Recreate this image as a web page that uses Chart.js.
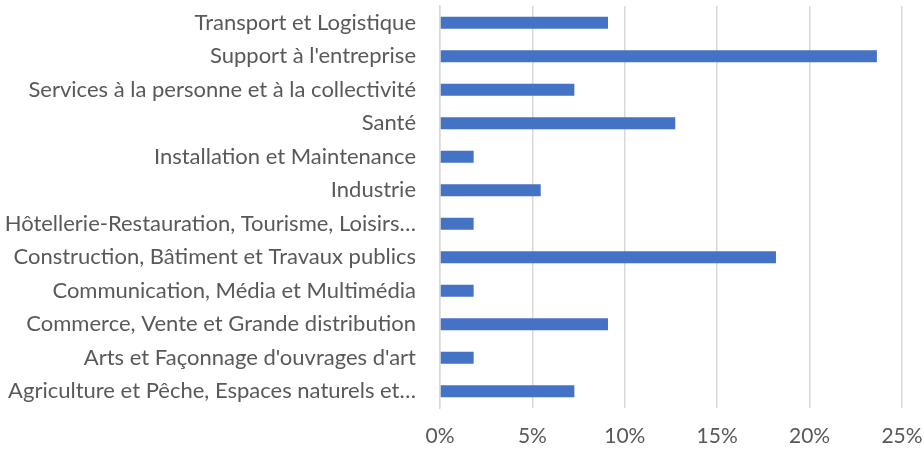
<!DOCTYPE html>
<html>
<head>
<meta charset="utf-8">
<script src="https://cdn.jsdelivr.net/npm/chart.js@4.4.0/dist/chart.umd.min.js"></script>
<style>
    html, body { margin: 0; padding: 0; background: #ffffff; }
    #wrap { width: 924px; height: 450px; position: relative; }
</style>
</head>
<body>
<div id="wrap"><canvas id="myChart"></canvas></div>
<script>
// categories, top to bottom
const categories = [
    'Transport et Logistique',
    "Support à l'entreprise",
    'Services à la personne et à la collectivité',
    'Santé',
    'Installation et Maintenance',
    'Industrie',
    'Hôtellerie-Restauration, Tourisme, Loisirs…',
    'Construction, Bâtiment et Travaux publics',
    'Communication, Média et Multimédia',
    'Commerce, Vente et Grande distribution',
    "Arts et Façonnage d'ouvrages d'art",
    'Agriculture et Pêche, Espaces naturels et…'
];

// share of each sector (%)
const shares = [9.09, 23.64, 7.27, 12.73, 1.82, 5.45, 1.82, 18.18, 1.82, 9.09, 1.82, 7.27];

const xTicks = [0, 5, 10, 15, 20, 25];

const textColor = '#595959';
const gridColor = '#d9d9d9';
const fontFamily = 'Lato';

const ctx = document.getElementById('myChart').getContext('2d');
new Chart(ctx, {
    type: 'bar',
    data: {
        labels: categories,
        datasets: [
            {
                label: 'Part',
                data: shares,
                backgroundColor: '#4472C4',
                categoryPercentage: 1,
                barPercentage: 0.36
            }
        ]
    },
    options: {
        indexAxis: 'y',
        responsive: true,
        maintainAspectRatio: false,
        animation: false,
        layout: {
            padding: { top: 6, right: 22, bottom: 0, left: 0 }
        },
        plugins: {
            legend: { display: false },
            tooltip: { enabled: false }
        },
        scales: {
            x: {
                min: 0,
                max: 25,
                afterBuildTicks: function (scale) {
                    scale.ticks = xTicks.map(v => ({ value: v }));
                },
                afterFit: function (scale) {
                    scale.height = 42;
                    scale.paddingLeft = 0;
                    scale.paddingRight = 0;
                },
                grid: {
                    color: gridColor,
                    lineWidth: 1.5,
                    drawTicks: false
                },
                border: { display: false },
                ticks: {
                    color: textColor,
                    font: { family: fontFamily, size: 21 },
                    padding: 16,
                    maxRotation: 0,
                    callback: function (value) {
                        return value + '%';
                    }
                }
            },
            y: {
                afterFit: function (scale) {
                    scale.width = 440;
                    scale.paddingTop = 0;
                    scale.paddingBottom = 0;
                },
                grid: { display: false, drawTicks: false },
                border: { display: true, color: gridColor, width: 1.5 },
                ticks: {
                    color: textColor,
                    font: { family: fontFamily, size: 22 },
                    padding: 24,
                    autoSkip: false
                }
            }
        }
    }
});
</script>
</body>
</html>
